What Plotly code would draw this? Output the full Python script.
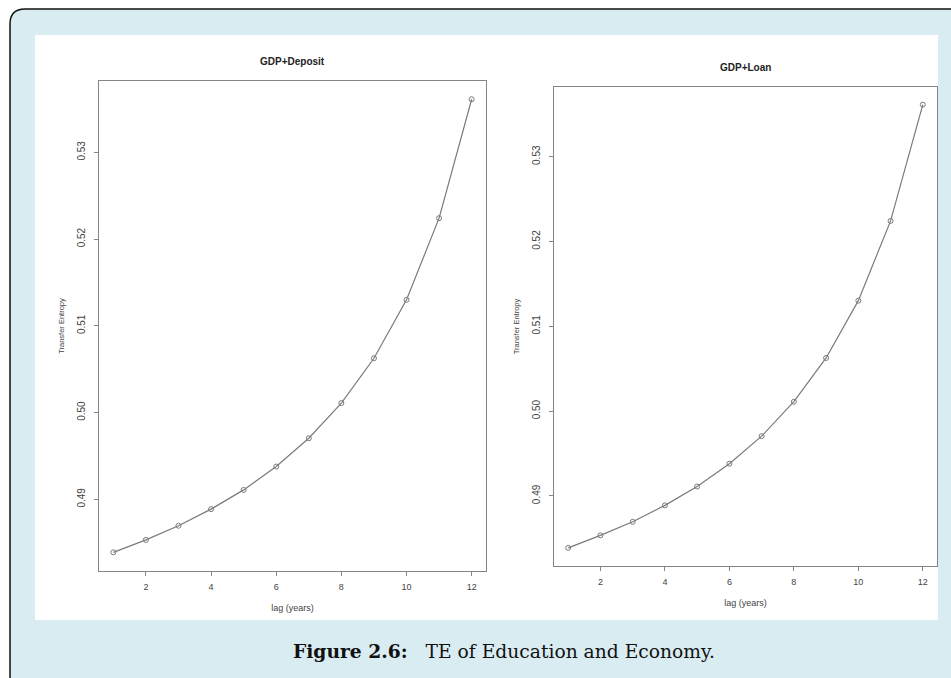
import plotly.graph_objects as go

# ---- data ----
lags = [1, 2, 3, 4, 5, 6, 7, 8, 9, 10, 11, 12]
te_gdp_deposit = [0.48389, 0.48533, 0.48696, 0.48887, 0.49109, 0.49378, 0.49704,
                  0.50110, 0.50626, 0.51300, 0.52241, 0.53612]
te_gdp_loan = [0.48388, 0.48535, 0.48695, 0.48889, 0.49111, 0.49380, 0.49705,
               0.50111, 0.50627, 0.51303, 0.52243, 0.53614]
x_ticks = [2, 4, 6, 8, 10, 12]
y_ticks = [0.49, 0.50, 0.51, 0.52, 0.53]
y_tick_labels = ["0.49", "0.50", "0.51", "0.52", "0.53"]
titles = ["GDP+Deposit", "GDP+Loan"]
x_title = "lag (years)"
y_title = "Transfer Entropy"
caption_bold = "Figure 2.6:"
caption_rest = "TE of Education and Economy."

W, H = 951, 678
def px(x):
    return x / W
def py(y):
    return 1 - y / H

LINE = "#7a7a7a"
AXIS = "#858585"
TEXT = "#444444"
FONT = "Liberation Sans, Arial, sans-serif"

fig = go.Figure()
for i, (ys, name) in enumerate([(te_gdp_deposit, titles[0]), (te_gdp_loan, titles[1])]):
    sfx = "" if i == 0 else "2"
    fig.add_trace(go.Scatter(
        x=lags, y=ys, mode="lines+markers", name=name,
        xaxis="x" + sfx, yaxis="y" + sfx,
        line=dict(color=LINE, width=1.2),
        marker=dict(symbol="circle-open", size=5, color=LINE, line=dict(width=1)),
        showlegend=False, cliponaxis=False,
    ))

def xax(domain, anchor):
    return dict(domain=domain, anchor=anchor, range=[0.56, 12.44],
                tickvals=x_ticks, ticks="outside", ticklen=4, tickcolor=AXIS,
                showline=True, linecolor=AXIS, linewidth=1, mirror=True,
                showgrid=False, zeroline=False,
                tickfont=dict(family=FONT, size=9, color=TEXT),
                ticklabelstandoff=3,
                title=dict(text=x_title, font=dict(family=FONT, size=9, color=TEXT), standoff=13))

def yax(domain, anchor):
    return dict(domain=domain, anchor=anchor, range=[0.48174, 0.53822],
                tickvals=y_ticks, ticktext=y_tick_labels, tickangle=-90,
                ticks="outside", ticklen=4, tickcolor=AXIS,
                showline=True, linecolor=AXIS, linewidth=1, mirror=True,
                showgrid=False, zeroline=False,
                tickfont=dict(family=FONT, size=10, color=TEXT),
                ticklabelstandoff=5,
                title=dict(text=y_title, font=dict(family=FONT, size=7.5, color=TEXT), standoff=10))

shapes = [
    # outer light-blue frame with rounded top-left corner
    dict(type="path", xref="paper", yref="paper", layer="below",
         path=f"M {px(10)},{py(700)} L {px(10)},{py(24)} Q {px(10)},{py(9)} {px(25)},{py(9)} "
              f"L {px(1000)},{py(9)} L {px(1000)},{py(700)} Z",
         fillcolor="#d9ecf1", line=dict(color="#111111", width=1.5)),
    # white panel
    dict(type="rect", xref="paper", yref="paper", layer="below",
         x0=px(35), x1=px(938), y0=py(620), y1=py(35),
         fillcolor="white", line=dict(width=0)),
]

annotations = [
    dict(text=f"<b>{titles[0]}</b>", xref="paper", yref="paper", x=px(292.5), y=py(62),
         yanchor="middle", xanchor="center",
         showarrow=False, font=dict(family=FONT, size=10, color="#222")),
    dict(text=f"<b>{titles[1]}</b>", xref="paper", yref="paper", x=px(745.5), y=py(67),
         yanchor="middle", xanchor="center",
         showarrow=False, font=dict(family=FONT, size=10, color="#222")),
    dict(text=f"<b>{caption_bold}</b>\u00a0\u00a0\u00a0{caption_rest}", xref="paper", yref="paper",
         x=px(504), y=py(651), yanchor="middle", xanchor="center", showarrow=False,
         font=dict(family="DejaVu Serif, serif", size=18.7, color="#111")),
]

fig.update_layout(
    width=W, height=H, margin=dict(l=0, r=0, t=0, b=0),
    paper_bgcolor="white", plot_bgcolor="rgba(0,0,0,0)",
    xaxis=xax([px(99), px(486)], "y"),
    yaxis=yax([py(571), py(81)], "x"),
    xaxis2=xax([px(554), px(937)], "y2"),
    yaxis2=yax([py(566), py(87)], "x2"),
    shapes=shapes, annotations=annotations,
)

fig.write_html("out.html", config={"displayModeBar": False},
               post_script="document.body.style.margin='0px';")
